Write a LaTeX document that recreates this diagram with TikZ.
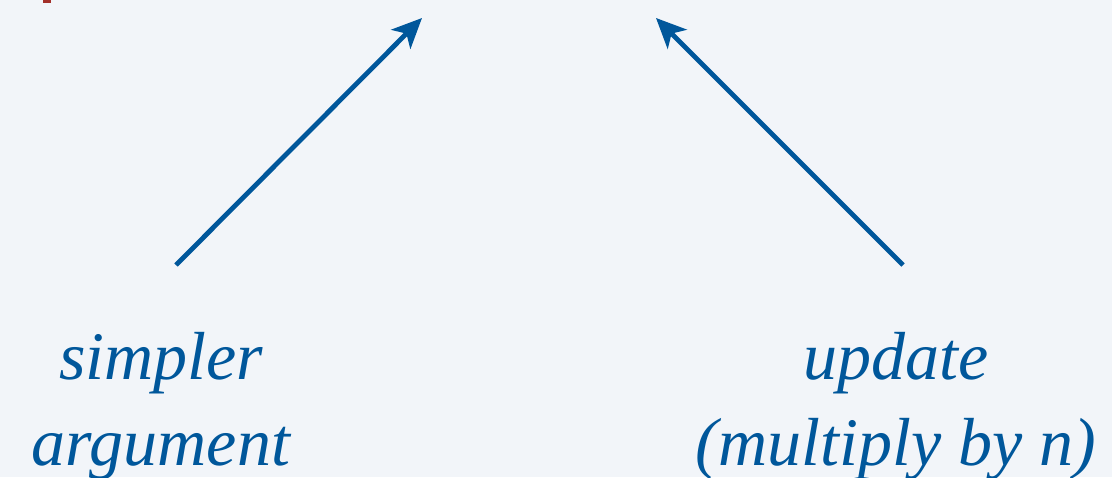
\documentclass[tikz,border=0pt]{standalone}
\usepackage{fontspec}
\setmainfont{Liberation Serif}
\usetikzlibrary{arrows.meta}
\definecolor{bgpale}{HTML}{F2F5F9}
\definecolor{inkblue}{HTML}{00579B}
\definecolor{markred}{HTML}{A3302A}
\tikzset{
  pointer/.style={draw=inkblue, line width=4.8pt,
    -{Stealth[length=30pt,width=27pt,inset=8pt]}},
  caption/.style={text=inkblue, align=center, inner sep=0pt,
    font=\itshape\fontsize{68}{87}\selectfont, anchor=base}
}
\begin{document}
\begin{tikzpicture}[x=1pt,y=-1pt]
  % canvas
  \fill[bgpale] (0,0) rectangle (1112,477);
  \useasboundingbox (0,0) rectangle (1112,477);
  % small red tick at the top edge
  \fill[markred] (43,0) rectangle (51,2.5);

  % arrow endpoints
  \coordinate (lfoot) at (176,265);
  \coordinate (ltip)  at (422,18);
  \coordinate (rfoot) at (903,265);
  \coordinate (rtip)  at (656,18);

  \draw[pointer] (lfoot) -- (ltip);
  \draw[pointer] (rfoot) -- (rtip);

  % labels
  \node[caption] (simpler) at (161,379) {simpler};
  \node[caption] (argument) at (161,465) {argument};
  \node[caption] (update) at (896,379) {update};
  \node[caption] (multiply) at (896,465) {(multiply by n)};
\end{tikzpicture}
\end{document}
